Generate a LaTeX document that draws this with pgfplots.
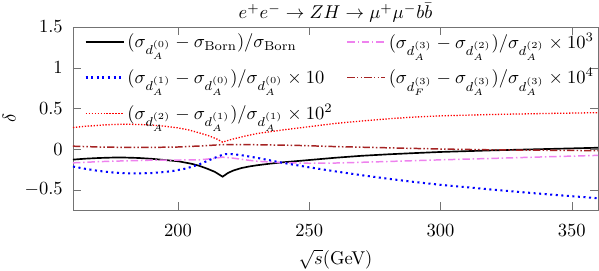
\documentclass[border=0pt]{standalone}
\usepackage{pgfplots}
\pgfplotsset{compat=1.18}
\usetikzlibrary{calc}
\definecolor{myviolet}{RGB}{238,130,238}
\definecolor{mybrown}{RGB}{165,35,35}
\begin{document}
\begin{tikzpicture}
\begin{axis}[
  name=ax,
  scale only axis,
  width=283.5pt, height=98.8pt,
  xmin=160, xmax=360, ymin=-0.75, ymax=1.5,
  xtick={200,250,300,350},
  ytick={-0.5,0,0.5,1,1.5},
  yticklabels={$-0.5$,$0$,$0.5$,$1$,$1.5$},
  tick align=inside,
  axis line style={black!55},
  major tick style={black!55},
  xticklabel style={yshift=-4.5pt},
  yticklabel style={xshift=-2pt},
  title={$e^+e^-\to ZH\to \mu^+\mu^- b\bar{b}$},
  title style={at={(0.5,1)}, anchor=center, yshift=1.6pt},
  xlabel={$\sqrt{s}$(GeV)},
  xlabel style={yshift=0pt},
  ylabel={$\delta$},
  ylabel style={yshift=-2pt},
  legend style={draw=none, fill=none, at={(1,0.995)}, anchor=north east,
    inner sep=0.5pt, row sep=5.6pt, nodes={inner xsep=1.5pt},
    /tikz/every even column/.append style={column sep=6pt}},
  legend cell align=left,
  legend columns=2,
  legend image code/.code={\draw plot coordinates {(0cm,0cm) (0.72cm,0cm)};},
]
% black: (sigma_dA0 - Born)/Born
\addplot[black, line width=0.9pt] coordinates {
(160,-0.13) (165,-0.118) (170,-0.11) (175,-0.105) (180,-0.105) (185,-0.11) (190,-0.12) (195,-0.135) (200,-0.15) (205,-0.18) (208,-0.205) (211,-0.24) (214,-0.28) (217,-0.34)
(219,-0.295) (221,-0.265) (224,-0.235) (227,-0.215) (230,-0.20) (235,-0.18) (240,-0.163) (250,-0.135) (260,-0.107) (270,-0.083) (280,-0.065) (290,-0.05) (300,-0.036) (320,-0.016) (340,0.0) (360,0.016)
};
\addlegendentry{$(\sigma_{d_A^{(0)}}-\sigma_{\rm Born})/\sigma_{\rm Born}$}
% violet x10^3
\addplot[myviolet, line width=0.8pt, dash pattern=on 4pt off 1.5pt on 0.8pt off 1.5pt] coordinates {
(160,-0.17) (170,-0.155) (180,-0.145) (190,-0.137) (200,-0.135) (208,-0.133) (213,-0.118) (217,-0.10) (220,-0.108) (225,-0.13) (230,-0.15) (240,-0.168) (250,-0.175) (260,-0.172) (270,-0.163) (280,-0.153) (290,-0.143) (300,-0.133) (320,-0.115) (340,-0.096) (360,-0.078)
};
\addlegendentry{$(\sigma_{d_A^{(3)}}-\sigma_{d_A^{(2)}})/\sigma_{d_A^{(2)}}\times 10^3$}
% blue x10
\addplot[blue, line width=1.1pt, dash pattern=on 1.1pt off 1.9pt] coordinates {
(160,-0.215) (165,-0.245) (170,-0.27) (175,-0.288) (180,-0.298) (185,-0.30) (190,-0.295) (195,-0.282) (198,-0.27) (203,-0.24) (208,-0.19) (212,-0.135) (215,-0.095) (217,-0.07) (218,-0.062) (220,-0.062) (222,-0.067) (225,-0.08) (231,-0.114) (240,-0.17) (250,-0.225) (260,-0.275) (270,-0.322) (280,-0.365) (290,-0.405) (300,-0.44) (320,-0.50) (340,-0.555) (360,-0.605)
};
\addlegendentry{$(\sigma_{d_A^{(1)}}-\sigma_{d_A^{(0)}})/\sigma_{d_A^{(0)}}\times 10$}
% brown x10^4
\addplot[mybrown, line width=0.8pt, dash pattern=on 4pt off 1.2pt on 0.8pt off 1.2pt on 0.8pt off 1.2pt] coordinates {
(160,0.035) (170,0.025) (180,0.02) (190,0.02) (200,0.025) (210,0.04) (217,0.055) (225,0.055) (235,0.05) (245,0.045) (260,0.03) (280,0.015) (300,0.0) (320,-0.01) (340,-0.015) (360,-0.02)
};
\addlegendentry{$(\sigma_{d_F^{(3)}}-\sigma_{d_A^{(3)}})/\sigma_{d_A^{(3)}}\times 10^4$}
% red x10^2
\addplot[red, line width=0.7pt, dash pattern=on 0.7pt off 0.9pt] coordinates {
(160,0.265) (165,0.28) (170,0.292) (175,0.302) (180,0.305) (185,0.302) (190,0.295) (195,0.28) (200,0.26) (204,0.235) (208,0.20) (212,0.16) (215,0.12) (217,0.085)
(220,0.115) (225,0.155) (230,0.19) (240,0.235) (250,0.275) (260,0.315) (270,0.345) (280,0.372) (290,0.393) (300,0.408) (320,0.425) (340,0.437) (360,0.447)
};
\addlegendentry{$(\sigma_{d_A^{(2)}}-\sigma_{d_A^{(1)}})/\sigma_{d_A^{(1)}}\times 10^2$}
\end{axis}
\pgfresetboundingbox
\path[use as bounding box] ($(ax.south west)+(-39.4pt,-32.9pt)$) rectangle ($(ax.north east)+(0.5pt,14.6pt)$);
\end{tikzpicture}
\end{document}
